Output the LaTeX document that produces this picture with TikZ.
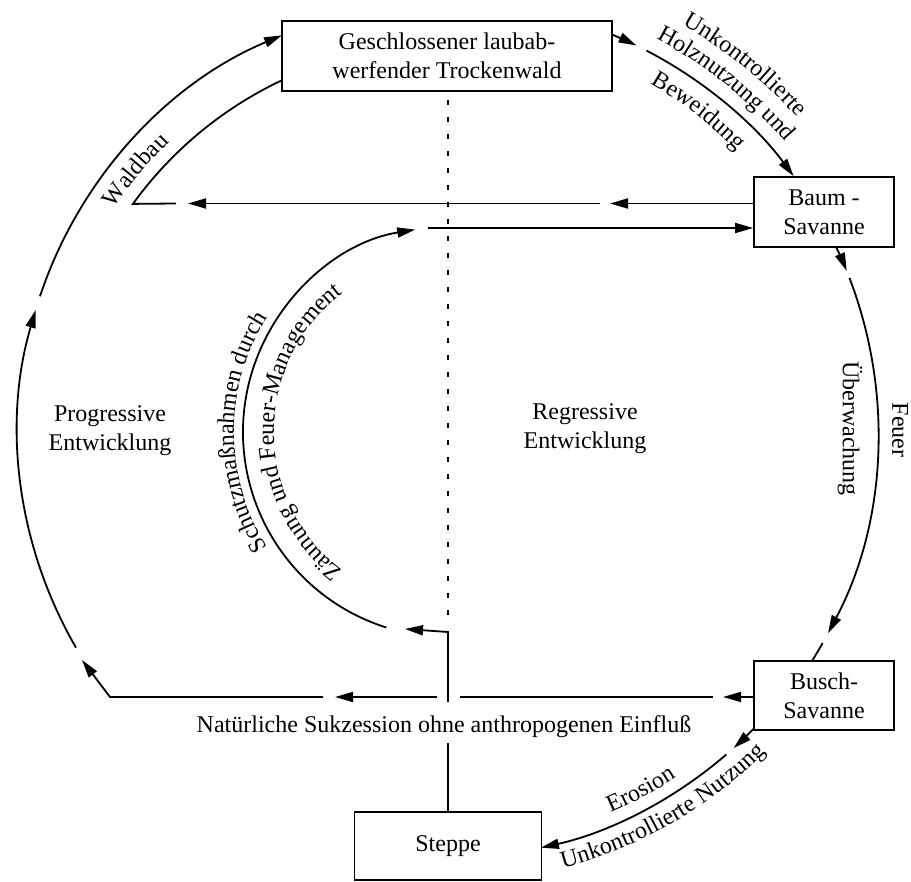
\documentclass[tikz,border=0pt]{standalone}
\usepackage{fontspec}
\setmainfont{Liberation Serif}
\usetikzlibrary{arrows.meta,calc,decorations.text}
\tikzset{
  lbox/.style={draw, line width=1.7pt, align=center, inner sep=0pt},
  lbl/.style={align=center, inner sep=0pt},
  arctext/.style={decoration={text along path, text align=center, text={#1}}, decorate},
  link/.style={line width=1.8pt},
  guide/.style={line width=1.6pt, dash pattern=on 5pt off 12pt}
}
\begin{document}
\begin{tikzpicture}[x=1pt, y=1pt, >={Triangle[length=18pt,width=10pt]}]
\fontsize{24}{29}\selectfont
\useasboundingbox (0,0) rectangle (911,-882);

% centre of the cycle
\coordinate (C) at (448,-432);

% stages
\node[lbox, minimum width=330pt, minimum height=70pt] (wald) at (447,-56) {Geschlossener laubab-\\werfender Trockenwald};
\node[lbox, minimum width=140pt, minimum height=70pt] (baum) at (824,-212) {Baum -\\Savanne};
\node[lbox, minimum width=140pt, minimum height=69pt] (busch) at (824,-695.5) {Busch-\\Savanne};
\node[lbox, minimum width=187pt, minimum height=68pt] (steppe) at (448,-846) {Steppe};

% dividing line between progressive and regressive side
\coordinate (g1) at (448,-100);
\coordinate (g2) at (448,-618);
\draw[guide] (g1) -- (g2);

% regressive path: forest -> tree savanna -> bush savanna -> steppe (outer circle, r = 430)
\draw[link,->] ($(C)+(67.7:430)$) arc[start angle=67.7, end angle=64, radius=430];
\draw[link,->] ($(C)+(62.5:430)$) arc[start angle=62.5, end angle=36.5, radius=430];
\draw[link,->] ($(C)+(25.4:430)$) arc[start angle=25.4, end angle=22, radius=430];
\draw[link,->] ($(C)+(21:430)$) arc[start angle=21, end angle=-27.9, radius=430];
\draw[link] ($(C)+(-29.4:430)$) arc[start angle=-29.4, end angle=-32.1, radius=430];
\draw[link,->] ($(C)+(-44.2:426)$) arc[start angle=-44.2, end angle=-47.9, radius=426];
\draw[link,->] ($(C)+(-49.2:426)$) arc[start angle=-49.2, end angle=-77.4, radius=426];

% progressive path on the left side
\coordinate (ba) at (723,-697);
\coordinate (bb) at (713,-697);
\coordinate (bc) at (460,-697);
\coordinate (bd) at (437,-697);
\coordinate (be) at (335,-697);
\coordinate (bf) at (323,-697);
\coordinate (bg) at (110,-697);
\coordinate (bh) at (82,-660);
\draw[link,->] (busch.west |- ba) -- (ba);
\draw[link] (bb) -- (bc);
\draw[link,->] (bd) -- (be);
\draw[link,->] (bf) -- (bg) -- (bh);
\draw[link,->] ($(C)+(210.1:430)$) arc[start angle=210.1, end angle=163.5, radius=430];
\draw[link,->] ($(C)+(161.6:430)$) arc[start angle=161.6, end angle=112.7, radius=430];

% silviculture: tree savanna back to forest
\coordinate (ua) at (610,-203.5);
\coordinate (ub) at (600,-203.5);
\coordinate (uc) at (188,-203.5);
\coordinate (ud) at (176,-203.5);
\draw[link,->] (baum.west |- ua) -- (ua);
\draw[link,->] (ub) -- (uc);
\draw[link] (ud) -- ($(C)+(144.1:389)$) arc[start angle=144.1, end angle=115.4, radius=389];

% protection: steppe -> inner arc -> tree savanna
\coordinate (va) at (448,-743);
\coordinate (vb) at (448,-702);
\coordinate (vc) at (448,-632);
\coordinate (vd) at (405,-629);
\draw[link] (steppe.north) -- (va);
\draw[link,->] (vb) -- (vc) -- (vd);
\draw[link,->] ($(C)+(252.5:205)$) arc[start angle=252.5, end angle=99.2, radius=205];
\coordinate (la) at (428,-228);
\draw[link,->] (la) -- (baum.west |- la);

% labels along the arcs
\path[arctext={Unkontrollierte}] ($(C)+(81:470)$) arc[start angle=81, end angle=21, radius=470];
\path[arctext={Holznutzung und}] ($(C)+(81.4:445)$) arc[start angle=81.4, end angle=21.4, radius=445];
\path[arctext={Beweidung}] ($(C)+(82:403)$) arc[start angle=82, end angle=22, radius=403];
\path[arctext={Waldbau}] ($(C)+(155:402)$) arc[start angle=155, end angle=125, radius=402];
\path[arctext={Schutzmaßnahmen durch}] ($(C)+(250:214)$) arc[start angle=250, end angle=110, radius=214];
\path[arctext={Zäunung und Feuer-Management}] ($(C)+(250:174)$) arc[start angle=250, end angle=110, radius=174];
\path[arctext={Erosion}] ($(C)+(-91.7:414)$) arc[start angle=-91.7, end angle=-31.7, radius=414];
\path[arctext={Unkontrollierte Nutzung}] ($(C)+(-90.2:451)$) arc[start angle=-90.2, end angle=-30.2, radius=451];

% straight labels
\node[lbl, rotate=-90] (feuer) at (900,-430) {Feuer};
\node[lbl, rotate=-90] (ueber) at (850,-428.5) {Überwachung};
\node[lbl] (prog) at (110,-431) {Progressive\\Entwicklung};
\node[lbl] (regr) at (585,-429) {Regressive\\Entwicklung};
\node[lbl, anchor=base] (sukz) at (444,-732) {Natürliche Sukzession ohne anthropogenen Einfluß};
\end{tikzpicture}
\end{document}
